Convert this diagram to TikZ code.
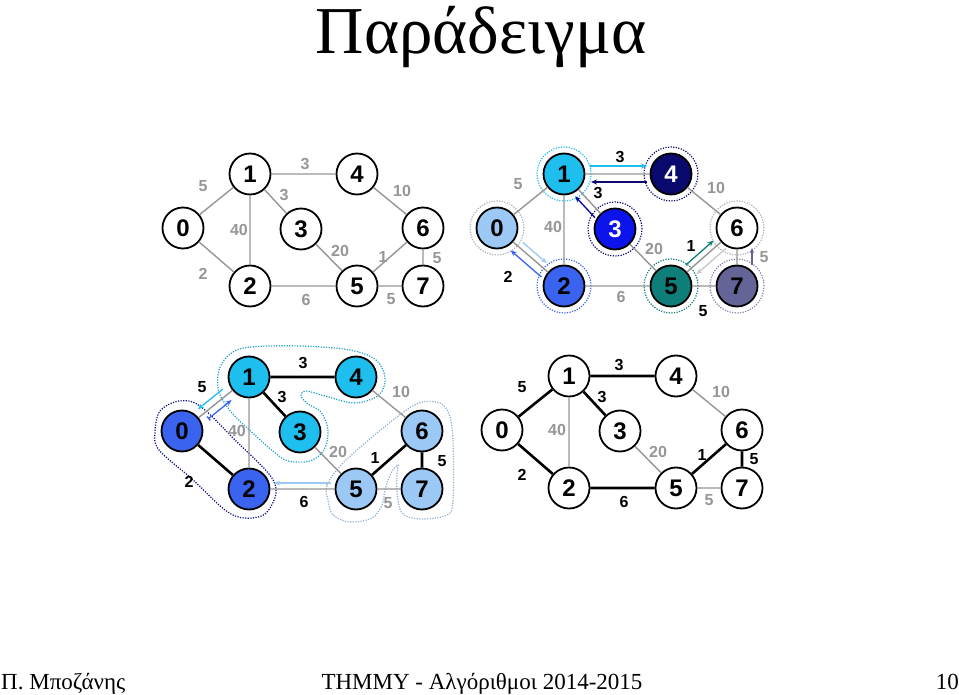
\documentclass[tikz,border=0pt]{standalone}
\usepackage{fontspec}
\setmainfont{Liberation Serif}
\newfontfamily\arialb[BoldFont={* Bold}]{Liberation Sans}
\usetikzlibrary{calc,arrows.meta}
\definecolor{edgegray}{RGB}{150,150,150}
\definecolor{lbc}{RGB}{155,200,245}
\definecolor{cyc}{RGB}{30,190,238}
\definecolor{rbc}{RGB}{58,100,240}
\definecolor{blc}{RGB}{10,20,235}
\definecolor{nvc}{RGB}{10,10,110}
\definecolor{tlc}{RGB}{15,125,120}
\definecolor{slc}{RGB}{100,100,150}
\definecolor{ringgray}{RGB}{170,178,190}
\definecolor{blobblue}{RGB}{140,175,210}
\tikzset{
 vtx/.style={circle, draw=black, fill=white, line width=1.8pt, minimum size=41pt, inner sep=0pt, font=\arialb\bfseries\fontsize{24}{24}\selectfont},
 lbl/.style={font=\arialb\bfseries\fontsize{16}{16}\selectfont, text=edgegray, inner sep=0pt},
 lblk/.style={lbl, text=black},
 ge/.style={draw=edgegray, line width=1.4pt},
 be/.style={draw=black, line width=2.6pt},
 ring/.style={circle, draw, dash pattern=on 1.2pt off 1.4pt, line width=1.2pt, minimum size=54pt, inner sep=0pt},
 blob/.style={dash pattern=on 1.2pt off 1.4pt, line width=1.2pt},
 arr/.style={line width=1.3pt, -{Stealth[length=6pt,width=5pt]}},
}
% parallel arrow: style, from, to, offset, start dist, end dist
\newcommand\parr[6]{\draw[arr,#1] ($ ($(#2)!#5!(#3)$)!#4!90:(#3) $) -- ($ ($(#3)!#6!(#2)$)!#4!-90:(#2) $);}
\begin{document}
\begin{tikzpicture}[x=1pt,y=-1pt]
\useasboundingbox (0,0) rectangle (959,695);
\fill[white] (0,0) rectangle (959,695);

% title and footer
\node[anchor=base, inner sep=0pt] (title) at (481,54) {\fontsize{67}{67}\selectfont Παράδειγμα};
\node[anchor=base west, inner sep=0pt] (auth) at (1,689) {\fontsize{23}{23}\selectfont Π. Μποζάνης};
\node[anchor=base, inner sep=0pt] (course) at (482,689) {\fontsize{23}{23}\selectfont ΤΗΜΜΥ - Αλγόριθμοι 2014-2015};
\node[anchor=base east, inner sep=0pt] (pg) at (959,689) {\fontsize{23}{23}\selectfont 10};

% ================= top-left =================
\begin{scope}[shift={(183,228)}]
\node[vtx] (a0) at (0,0) {0};
\node[vtx] (a1) at (67,-54) {1};
\node[vtx] (a2) at (67,58) {2};
\node[vtx] (a3) at (118,1) {3};
\node[vtx] (a4) at (174,-54) {4};
\node[vtx] (a5) at (174,58) {5};
\node[vtx] (a6) at (240,0) {6};
\node[vtx] (a7) at (240,58) {7};
\end{scope}
\draw[ge] (a0)--(a1) (a0)--(a2) (a1)--(a2) (a1)--(a4) (a1)--(a3) (a3)--(a5) (a4)--(a6) (a2)--(a5) (a5)--(a6) (a5)--(a7) (a6)--(a7);
\node[lbl] (la01) at (203,186) {5};
\node[lbl] (la14) at (305,164) {3};
\node[lbl] (la13) at (284,195) {3};
\node[lbl] (la46) at (402,191) {10};
\node[lbl] (la12) at (239,230) {40};
\node[lbl] (la35) at (340,251) {20};
\node[lbl] (la56) at (383,257) {1};
\node[lbl] (la67) at (437,258) {5};
\node[lbl] (la02) at (203,274) {2};
\node[lbl] (la25) at (306,300) {6};
\node[lbl] (la57) at (391,299) {5};

% ================= top-right =================
\begin{scope}[shift={(497,228)}]
\node[ring, draw=ringgray] (r0) at (0,0) {};
\node[ring, draw=cyc] (r1) at (67,-54) {};
\node[ring, draw=rbc] (r2) at (67,58) {};
\node[ring, draw=nvc] (r3) at (118,1) {};
\node[ring, draw=nvc] (r4) at (174,-54) {};
\node[ring, draw=tlc] (r5) at (174,58) {};
\node[ring, draw=ringgray] (r6) at (240,0) {};
\node[ring, draw=slc!80] (r7) at (240,58) {};
\node[vtx, fill=lbc] (b0) at (0,0) {0};
\node[vtx, fill=cyc] (b1) at (67,-54) {1};
\node[vtx, fill=rbc] (b2) at (67,58) {2};
\node[vtx, fill=blc, text=white] (b3) at (118,1) {3};
\node[vtx, fill=nvc, text=white] (b4) at (174,-54) {4};
\node[vtx, fill=tlc] (b5) at (174,58) {5};
\node[vtx] (b6) at (240,0) {6};
\node[vtx, fill=slc] (b7) at (240,58) {7};
\end{scope}
\draw[ge] (b0)--(b1) (b0)--(b2) (b1)--(b2) (b1)--(b4) (b1)--(b3) (b3)--(b5) (b4)--(b6) (b2)--(b5) (b5)--(b6) (b5)--(b7) (b6)--(b7);
\parr{cyc}{b1}{b4}{8pt}{26pt}{24pt}
\parr{nvc}{b4}{b1}{8pt}{24pt}{27pt}
\parr{nvc!70!blue}{b3}{b1}{7pt}{22pt}{24pt}
\parr{lbc}{b0}{b2}{6pt}{29pt}{28pt}
\parr{rbc}{b2}{b0}{8pt}{23pt}{25pt}
\parr{tlc}{b5}{b6}{6pt}{25pt}{26pt}
\parr{black!22}{b6}{b5}{8pt}{22pt}{27pt}
\draw[arr, slc, -{Stealth[length=5pt,width=4pt]}] ($(b7)+(15,-21)$) -- ($(b6)+(15,20)$);
\node[lbl] (lb01) at (518,184) {5};
\node[lblk] (lb14) at (620,157) {3};
\node[lblk] (lb13) at (598,193) {3};
\node[lbl] (lb46) at (716,188) {10};
\node[lbl] (lb12) at (553,227) {40};
\node[lbl] (lb35) at (654,249) {20};
\node[lblk] (lb56) at (691,246) {1};
\node[lbl] (lb67) at (764,257) {5};
\node[lblk] (lb02) at (508,277) {2};
\node[lbl] (lb25) at (621,297) {6};
\node[lblk] (lb57) at (703,311) {5};

% ================= bottom-left =================
\draw[blob, draw=nvc!80!blue] plot[smooth cycle, tension=0.55] coordinates {(155,432) (160,411) (179,401) (200,406) (235,440) (269,474) (276,493) (265,514) (244,518) (225,510) (192,479) (159,450)};
\draw[blob, draw=cyc!85!black] plot[smooth cycle, tension=0.55] coordinates {(250,347) (300,346) (350,350) (376,360) (385,378) (379,395) (355,403) (325,396) (306,391) (301,396) (308,404) (321,412) (328,430) (324,450) (310,461) (288,461) (274,452) (256,436) (232,413) (219,392) (219,370) (230,354)};
\draw[blob, draw=blobblue] plot[smooth cycle, tension=0.55] coordinates {(328,500) (327,485) (343,463) (377,433) (405,411) (422,402) (440,403) (449,414) (453,440) (453,500) (447,515) (420,519) (402,513) (397,492) (397,474) (398,465) (391,473) (385,490) (382,505) (372,518) (350,522) (333,515)};
\begin{scope}[shift={(182,431)}]
\node[vtx, fill=rbc] (c0) at (0,0) {0};
\node[vtx, fill=cyc] (c1) at (67,-54) {1};
\node[vtx, fill=rbc] (c2) at (67,58) {2};
\node[vtx, fill=cyc] (c3) at (118,1) {3};
\node[vtx, fill=cyc] (c4) at (174,-54) {4};
\node[vtx, fill=lbc] (c5) at (174,58) {5};
\node[vtx, fill=lbc] (c6) at (240,0) {6};
\node[vtx, fill=lbc] (c7) at (240,58) {7};
\end{scope}
\draw[ge] (c0)--(c1) (c1)--(c2) (c3)--(c5) (c4)--(c6) (c2)--(c5) (c5)--(c7);
\draw[be] (c0)--(c2) (c1)--(c4) (c1)--(c3) (c5)--(c6) (c6)--(c7);
\parr{cyc}{c1}{c0}{-7pt}{28pt}{26pt}
\draw[arr, rbc, {Bar[width=5pt]}-{Stealth[length=6pt,width=5pt]}] ($ ($(c0)!28pt!(c1)$)!-7pt!90:(c1) $) -- ($ ($(c1)!28pt!(c0)$)!-7pt!-90:(c0) $);
\parr{lbc}{c5}{c2}{-6pt}{25pt}{25pt}
\node[lblk] (lc01) at (202,387) {5};
\node[lblk] (lc14) at (303,363) {3};
\node[lblk] (lc13) at (282,397) {3};
\node[lbl] (lc46) at (401,392) {10};
\node[lbl] (lc12) at (237,431) {40};
\node[lbl] (lc35) at (338,452) {20};
\node[lblk] (lc56) at (375,458) {1};
\node[lblk] (lc67) at (442,461) {5};
\node[lblk] (lc02) at (189,482) {2};
\node[lblk] (lc25) at (304,502) {6};
\node[lbl] (lc57) at (388,503) {5};

% ================= bottom-right =================
\begin{scope}[shift={(502,430)}]
\node[vtx] (d0) at (0,0) {0};
\node[vtx] (d1) at (67,-54) {1};
\node[vtx] (d2) at (67,58) {2};
\node[vtx] (d3) at (118,1) {3};
\node[vtx] (d4) at (174,-54) {4};
\node[vtx] (d5) at (174,58) {5};
\node[vtx] (d6) at (240,0) {6};
\node[vtx] (d7) at (240,58) {7};
\end{scope}
\draw[ge] (d1)--(d2) (d3)--(d5) (d4)--(d6) (d5)--(d7);
\draw[be] (d0)--(d1) (d0)--(d2) (d1)--(d4) (d1)--(d3) (d2)--(d5) (d5)--(d6) (d6)--(d7);
\node[lblk] (ld01) at (522,387) {5};
\node[lblk] (ld14) at (619,365) {3};
\node[lblk] (ld13) at (602,397) {3};
\node[lbl] (ld46) at (721,392) {10};
\node[lbl] (ld12) at (557,430) {40};
\node[lbl] (ld35) at (658,452) {20};
\node[lblk] (ld56) at (702,455) {1};
\node[lblk] (ld67) at (754,459) {5};
\node[lblk] (ld02) at (522,475) {2};
\node[lblk] (ld25) at (624,502) {6};
\node[lbl] (ld57) at (709,500) {5};
\end{tikzpicture}
\end{document}
